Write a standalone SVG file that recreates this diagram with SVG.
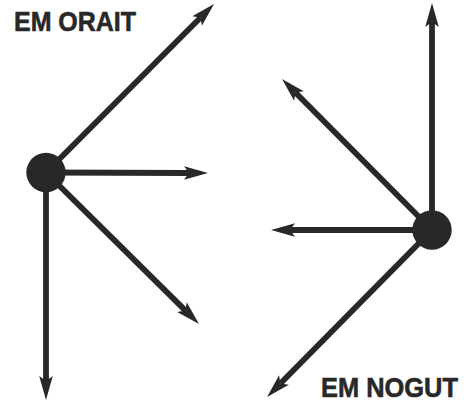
<svg xmlns="http://www.w3.org/2000/svg" width="464" height="415" viewBox="0 0 464 415">
<style>
.c{stroke:#282828;stroke-width:5.8;fill:none;marker-end:url(#ah)}
.dot{fill:#282828}
.t{font-family:"Liberation Sans",Arial,sans-serif;font-weight:bold;font-size:28.5px;fill:#282828;stroke:#282828;stroke-width:0.6}
</style>
<defs>
<marker id="ah" markerUnits="userSpaceOnUse" markerWidth="30" markerHeight="16" viewBox="0 -8 26 16" refX="5" refY="0" orient="auto">
<path d="M0,-6.8 L24,0 L0,6.8 L5,0 Z" fill="#282828"/>
</marker>
</defs>
<rect width="464" height="415" fill="#fff"/>
<g id="connectors">
<line class="c" x1="46" y1="172.5" x2="200.6" y2="17.5"/>
<line class="c" x1="46" y1="172.5" x2="189" y2="173"/>
<line class="c" x1="46" y1="172.5" x2="185.5" y2="310.6"/>
<line class="c" x1="46" y1="172.5" x2="46" y2="381"/>
<line class="c" x1="432" y1="230" x2="432" y2="22"/>
<line class="c" x1="432" y1="230" x2="295.4" y2="92.5"/>
<line class="c" x1="432" y1="230" x2="290" y2="230"/>
<line class="c" x1="432" y1="230" x2="280.4" y2="383.5"/>
</g>
<g id="node-left"><circle class="dot" cx="46" cy="172.5" r="19.7"/></g>
<g id="node-right"><circle class="dot" cx="432" cy="230" r="19.7"/></g>
<g id="label-orait"><text class="t" x="14" y="31" textLength="122" lengthAdjust="spacingAndGlyphs">EM ORAIT</text></g>
<g id="label-nogut"><text class="t" x="321" y="396.5" textLength="137" lengthAdjust="spacingAndGlyphs">EM NOGUT</text></g>
</svg>
